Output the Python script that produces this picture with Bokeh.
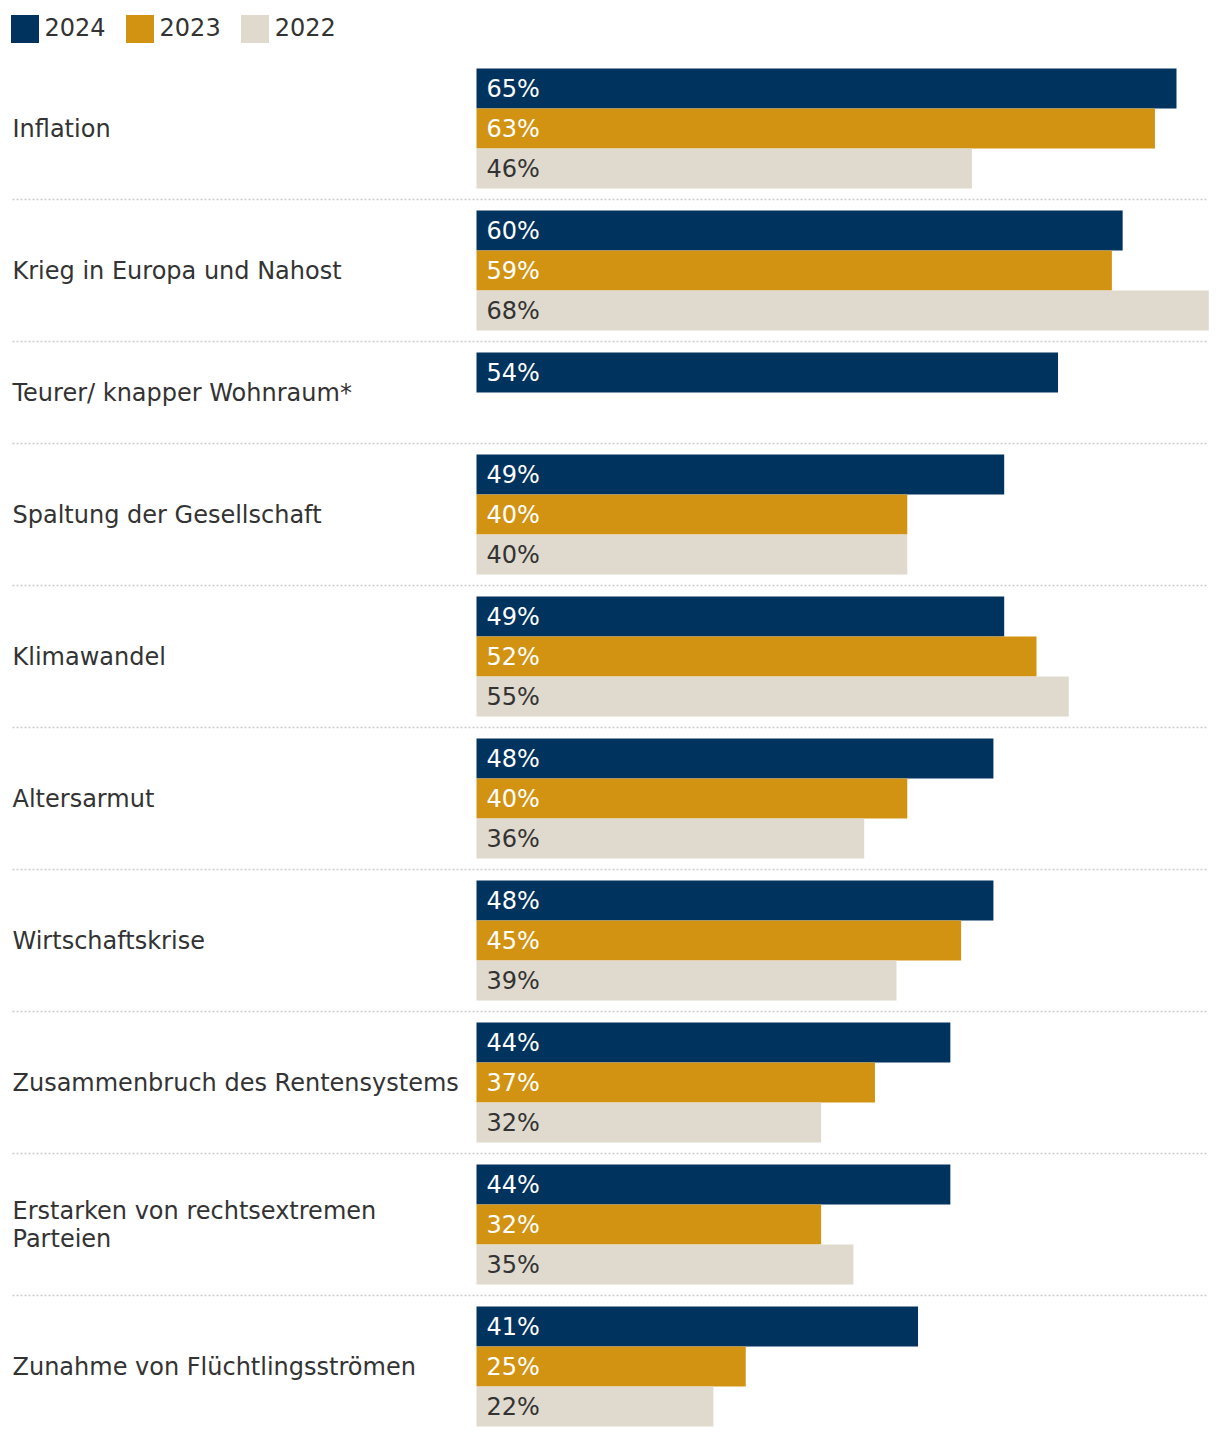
from bokeh.plotting import figure
from bokeh.models import Range1d, ColumnDataSource, Legend, LegendItem
from bokeh.core.properties import value
from bokeh.embed import file_html
from bokeh.resources import INLINE

categories = [
    "Inflation",
    "Krieg in Europa und Nahost",
    "Teurer/ knapper Wohnraum*",
    "Spaltung der Gesellschaft",
    "Klimawandel",
    "Altersarmut",
    "Wirtschaftskrise",
    "Zusammenbruch des Rentensystems",
    "Erstarken von rechtsextremen\nParteien",
    "Zunahme von Flüchtlingsströmen",
]
years = ["2024", "2023", "2022"]
v2024 = [65, 60, 54, 49, 49, 48, 48, 44, 44, 41]
v2023 = [63, 59, None, 40, 52, 40, 45, 37, 32, 25]
v2022 = [46, 68, None, 40, 55, 36, 39, 32, 35, 22]

colors = ["#00335e", "#d39312", "#e0d9cd"]
label_colors = ["#ffffff", "#ffffff", "#333333"]
FONT_NAME = "DejaVu Sans"
FONT = value(FONT_NAME)
TEXT = "#333333"

W, H = 1220, 1438
BAR = 40          # px per bar
GAP = 22          # px between groups
TOP = 68          # first bar top
LEFT = 476        # px of 0%
PX = 700 / 65.0   # px per percent

p = figure(width=W, height=H, output_backend="svg", toolbar_location=None,
           x_range=Range1d(-LEFT / PX, (W - LEFT) / PX),
           y_range=Range1d(H, 0), min_border=0, outline_line_color=None)
p.axis.visible = False
p.grid.visible = False
p.background_fill_color = None
p.border_fill_color = None

series = [v2024, v2023, v2022]
bars = {k: dict(y=[], v=[], lab=[]) for k in range(3)}
cat_y, sep_y = [], []
y = TOP
for i, cat in enumerate(categories):
    # a row keeps a slot for every series that has data, and one for an empty 2023
    n_slots = 3 if v2022[i] is not None else 2
    start = y
    for k in range(n_slots):
        val = series[k][i]
        if val is not None:
            bars[k]["y"].append(y + BAR / 2)
            bars[k]["v"].append(val)
            bars[k]["lab"].append(f"{val}%")
        y += BAR
    cat_y.append((start + y) / 2)
    if i < len(categories) - 1:
        sep_y.append(y + GAP / 2)
        y += GAP

x_left = (12 - LEFT) / PX
x_right = (1208 - LEFT) / PX
for sy in sep_y:
    p.line([x_left, x_right], [sy, sy], line_color="#cccccc", line_width=1.3, line_dash="2 2")

renderers = []
for k in range(3):
    src = ColumnDataSource(bars[k])
    r = p.hbar(y="y", left=0, right="v", height=BAR, source=src,
               fill_color=colors[k], line_color=None)
    renderers.append(r)
    p.text(x=0, y="y", text="lab", source=src, x_offset=10,
           text_align="left", text_baseline="middle", text_font=FONT,
           text_font_size="24px", text_color=label_colors[k])

p.text(x=[x_left] * len(categories), y=cat_y, text=categories,
       text_align="left", text_baseline="middle", text_font=FONT,
       text_font_size="24px", text_color=TEXT, text_line_height=1.0)

legend = Legend(items=[LegendItem(label=years[k], renderers=[renderers[k]]) for k in range(3)],
                orientation="horizontal", location=(6.5, H - 10.5 - 35),
                glyph_width=35, glyph_height=35, label_standoff=3,
                spacing=16, padding=0, margin=0,
                border_line_color=None, background_fill_alpha=0,
                label_text_font=FONT_NAME, label_text_font_size="24px",
                label_text_color=TEXT, label_height=35)
p.add_layout(legend, "center")

open("out.html", "w").write(file_html(p, INLINE))
